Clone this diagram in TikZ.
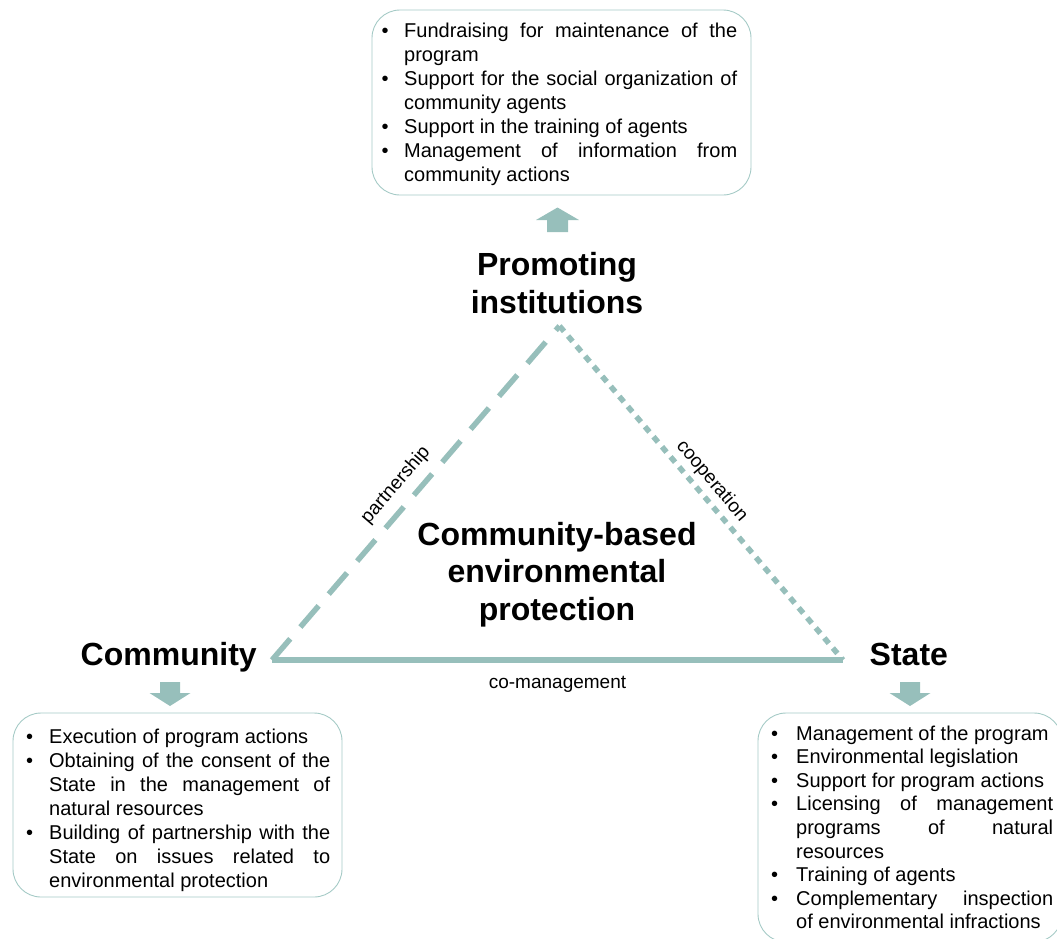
\documentclass[tikz,border=0pt]{standalone}
\usepackage{fontspec}
\setmainfont{Liberation Sans}
\usetikzlibrary{calc}

\definecolor{linkteal}{RGB}{151,191,187}
\definecolor{boxedge}{RGB}{165,202,198}

% hanging bullet item for the role lists
\newlength\bulind
\newcommand\bitem[1]{\hangindent=\bulind\hangafter=1\noindent\makebox[\bulind][l]{•}#1\par}

\tikzset{
  tri/.style={draw=linkteal, line width=5.5pt},
  panel/.style={draw=boxedge, line width=0.9pt, rounded corners=28pt, inner sep=0pt},
  bullets/.style={anchor=base west, inner sep=0pt, align=justify,
    font=\fontsize{20}{24}\selectfont,
    execute at begin node={\setlength\bulind{#1}\tolerance=10000\hbadness=10000\hyphenpenalty=10000\parskip=0pt}},
  heading/.style={font=\bfseries\fontsize{32}{38}\selectfont, inner sep=0pt},
  edgelabel/.style={font=\fontsize{19}{22}\selectfont, inner sep=0pt},
  blockarrow/.style={fill=linkteal, draw=none},
}

\begin{document}
\begin{tikzpicture}[x=1pt, y=-1pt]
\useasboundingbox (0,0) rectangle (1057,938);
\clip (0,0) rectangle (1057,938);

% corners of the triangle
\coordinate (A) at (559.5,326);
\coordinate (B) at (272,660);
\coordinate (C) at (843,660);

% actors
\node[heading, text width=250pt, align=center, anchor=base] (promo) at (557,275) {Promoting\\institutions};
\node[heading, anchor=base west] (comm) at (80.5,665) {Community};
\node[heading, anchor=base west] (state) at (869.5,665) {State};
\node[heading, text width=320pt, align=center, anchor=base,
      font=\bfseries\fontsize{32}{37.5}\selectfont] (core) at (557,545)
  {Community-based\\environmental\\protection};

% relations between the actors
\draw[tri, dash pattern=on 28pt off 15.5pt] (B) -- node[edgelabel, pos=0.484, sloped, above=8.5pt] (lblp) {partnership} (A);
\draw[tri, dash pattern=on 7pt off 6.2pt] (A) -- node[edgelabel, pos=0.495, sloped, above=4pt] (lblc) {cooperation} (C);
\draw[tri] (B) -- node[edgelabel, pos=0.5, anchor=base, yshift=-28pt] (lblm) {co-management} (C);

% role panels
\node[panel, minimum width=379pt, minimum height=185pt] (topbox) at (561.5,102.5) {};
\node[panel, minimum width=329pt, minimum height=184pt] (leftbox) at (177.5,805) {};
\node[panel, minimum width=304pt, minimum height=229pt] (rightbox) at (910,827.5) {};

\node[bullets=22.5pt, text width=355.5pt] (toplist) at (381.5,37) {%
  \bitem{Fundraising for maintenance of the\linebreak program}
  \bitem{Support for the social organization of\linebreak community agents}
  \bitem{Support in the training of agents}
  \bitem{Management of information from\linebreak community actions}};

\node[bullets=23pt, text width=304pt] (leftlist) at (26,743) {%
  \bitem{Execution of program actions}
  \bitem{Obtaining of the consent of the\linebreak State in the management of\linebreak natural resources}
  \bitem{Building of partnership with the\linebreak State on issues related to\linebreak environmental protection}};

\node[bullets=25pt, text width=282pt, font=\fontsize{20}{23.6}\selectfont] (rightlist) at (771,740) {%
  \bitem{Management of the program}
  \bitem{Environmental legislation}
  \bitem{Support for program actions}
  \bitem{Licensing of management\linebreak programs of natural\linebreak resources}
  \bitem{Training of agents}
  \bitem{Complementary inspection\linebreak of environmental infractions}};

% block arrows from each actor to its panel
\fill[blockarrow] (547,232) -- (547,220) -- (536,220) -- (557.5,207.5) -- (579,220) -- (568,220) -- (568,232) -- cycle;
\fill[blockarrow] (160,682) -- (180,682) -- (180,693) -- (190.5,693) -- (170,706) -- (149.5,693) -- (160,693) -- cycle;
\fill[blockarrow] (900,682) -- (920,682) -- (920,693) -- (930.5,693) -- (910,706) -- (889.5,693) -- (900,693) -- cycle;
\end{tikzpicture}
\end{document}
